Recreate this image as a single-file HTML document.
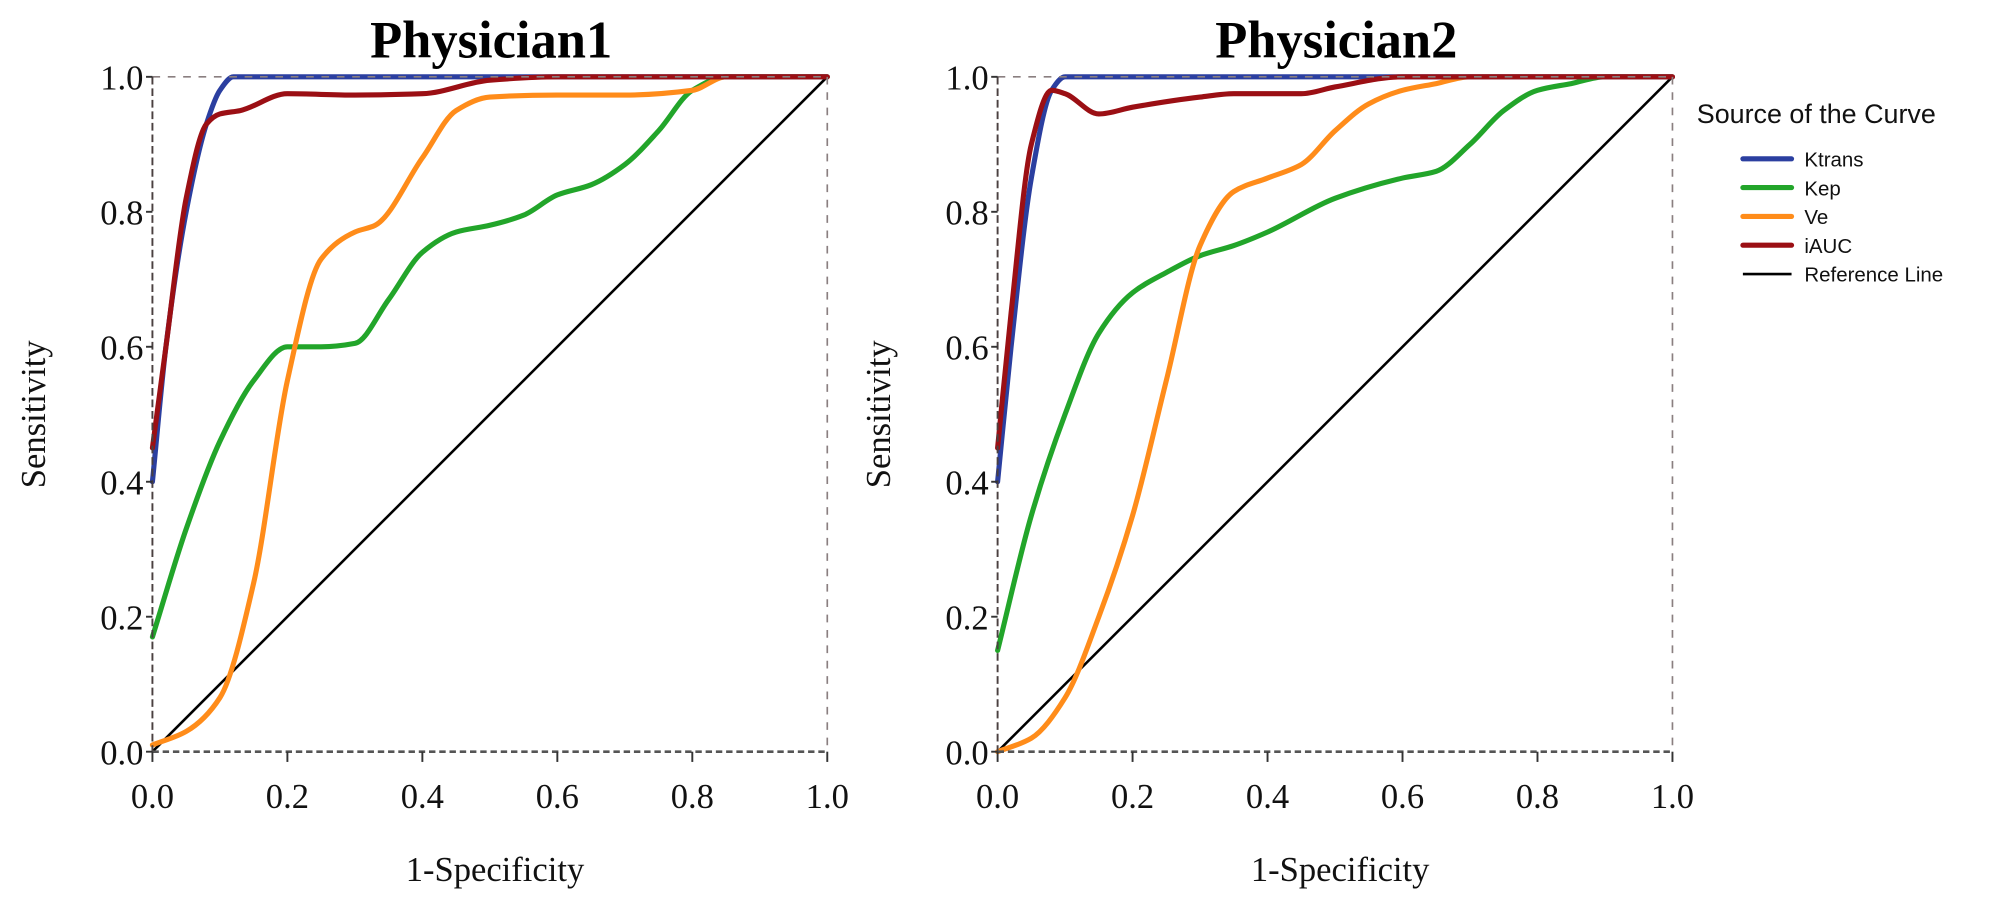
<!DOCTYPE html>
<html><head><meta charset="utf-8"><style>
html,body{margin:0;padding:0;background:#fff;}
svg{display:block;}
</style></head><body>
<svg id="chart" width="2008" height="906" viewBox="0 0 1568 707.5" xmlns="http://www.w3.org/2000/svg">
<g id="panels"></g>
<g id="legend">
<text x="1325" y="96" font-family="Liberation Sans, sans-serif" font-size="21" fill="#111">Source of the Curve</text>
</g>
</svg>
<script>
const seriesNames = ["Kep","Ve","Ktrans","iAUC"];
const seriesColors = {Ktrans:"#2b3fa0",Kep:"#22a52a",Ve:"#ff8c1a",iAUC:"#9b0f14"};
const ticks = [0,0.2,0.4,0.6,0.8,1.0];
const tickLabels = ["0.0","0.2","0.4","0.6","0.8","1.0"];
const panelTitles = ["Physician1","Physician2"];

const p1_Ktrans_x=[0,0.02,0.05,0.08,0.1,0.12,1];
const p1_Ktrans_y=[0.4,0.6,0.8,0.93,0.98,1,1];
const p1_iAUC_x=[0,0.02,0.05,0.08,0.1,0.13,0.2,0.3,0.4,0.5,0.6,1];
const p1_iAUC_y=[0.45,0.6,0.82,0.93,0.945,0.95,0.975,0.973,0.975,0.995,1,1];
const p1_Ve_x=[0,0.05,0.1,0.15,0.2,0.25,0.3,0.33,0.4,0.45,0.5,0.6,0.7,0.8,0.85,1];
const p1_Ve_y=[0.01,0.03,0.08,0.25,0.55,0.73,0.77,0.78,0.88,0.95,0.97,0.973,0.973,0.98,1,1];
const p1_Kep_x=[0,0.05,0.1,0.15,0.2,0.25,0.3,0.35,0.4,0.45,0.5,0.55,0.6,0.65,0.7,0.75,0.8,0.85,1];
const p1_Kep_y=[0.17,0.33,0.46,0.55,0.6,0.6,0.605,0.67,0.74,0.77,0.78,0.795,0.825,0.84,0.87,0.92,0.98,1,1];

const p2_Ktrans_x=[0,0.02,0.05,0.08,0.1,1];
const p2_Ktrans_y=[0.4,0.6,0.85,0.98,1,1];
const p2_iAUC_x=[0,0.02,0.05,0.08,0.1,0.15,0.2,0.3,0.35,0.45,0.5,0.6,1];
const p2_iAUC_y=[0.45,0.65,0.9,0.98,0.975,0.945,0.955,0.97,0.975,0.975,0.985,1,1];
const p2_Ve_x=[0,0.05,0.1,0.15,0.2,0.25,0.3,0.35,0.4,0.45,0.5,0.55,0.6,0.65,0.7,1];
const p2_Ve_y=[0,0.02,0.08,0.2,0.35,0.55,0.75,0.83,0.85,0.87,0.92,0.96,0.98,0.99,1,1];
const p2_Kep_x=[0,0.05,0.1,0.15,0.2,0.25,0.3,0.35,0.4,0.5,0.6,0.65,0.7,0.75,0.8,0.85,0.9,1];
const p2_Kep_y=[0.15,0.35,0.5,0.62,0.68,0.71,0.735,0.75,0.77,0.82,0.85,0.86,0.9,0.95,0.98,0.99,1,1];

const panelData=[
 {Ktrans:[p1_Ktrans_x,p1_Ktrans_y],iAUC:[p1_iAUC_x,p1_iAUC_y],Ve:[p1_Ve_x,p1_Ve_y],Kep:[p1_Kep_x,p1_Kep_y]},
 {Ktrans:[p2_Ktrans_x,p2_Ktrans_y],iAUC:[p2_iAUC_x,p2_iAUC_y],Ve:[p2_Ve_x,p2_Ve_y],Kep:[p2_Kep_x,p2_Kep_y]}
];

const NS="http://www.w3.org/2000/svg";
function mk(tag,attrs,parent){const e=document.createElementNS(NS,tag);for(const k in attrs)e.setAttribute(k,attrs[k]);parent.appendChild(e);return e;}
function smooth(pts){
 const n=pts.length;
 const dx=[],m=[],t=new Array(n);
 for(let i=0;i<n-1;i++){dx.push(pts[i+1][0]-pts[i][0]);m.push((pts[i+1][1]-pts[i][1])/dx[i]);}
 t[0]=m[0];t[n-1]=m[n-2];
 for(let i=1;i<n-1;i++){
  if(m[i-1]*m[i]<=0)t[i]=0;
  else{const w1=2*dx[i]+dx[i-1],w2=dx[i]+2*dx[i-1];t[i]=(w1+w2)/(w1/m[i-1]+w2/m[i]);}
 }
 let d="M"+pts[0][0]+","+pts[0][1];
 for(let i=0;i<n-1;i++){
  const h=dx[i]/3;
  d+=" C"+(pts[i][0]+h)+","+(pts[i][1]+t[i]*h)+" "+(pts[i+1][0]-h)+","+(pts[i+1][1]-t[i+1]*h)+" "+pts[i+1][0]+","+pts[i+1][1];
 }
 return d;
}
const panelsG=document.getElementById("panels");
const panelX0=[119,779], W=527, Y0=587, H=527;
panelTitles.forEach((t,pi)=>{
 const x0=panelX0[pi];
 const sx=v=>x0+v*W, sy=v=>Y0-v*H;
 const g=mk("g",{},panelsG);
 
 
 const title=mk("text",{x:x0+W/2+1,y:45,"text-anchor":"middle","font-family":"Liberation Serif, serif","font-weight":"bold","font-size":"41",fill:"#000"},g);
 title.textContent=t;
 
 
 const ref=mk("line",{x1:sx(0),y1:sy(0),x2:sx(1),y2:sy(1),stroke:"#000","stroke-width":"2"},g);
 
 
 seriesNames.forEach(s=>{
  const [xs,ys]=panelData[pi][s];
  const pts=xs.map((x,i)=>[sx(x),sy(ys[i])]);
  const path=mk("path",{d:smooth(pts),fill:"none",stroke:seriesColors[s],"stroke-width":"4","stroke-linecap":"round","stroke-linejoin":"round"},g);
  
  
 });
 const fr=mk("g",{},g);
 
 
 mk("line",{x1:sx(0),y1:sy(1),x2:sx(1),y2:sy(1),stroke:"#8a7f80","stroke-width":"1.3","stroke-dasharray":"6,6"},fr);
 mk("line",{x1:sx(1),y1:sy(1),x2:sx(1),y2:sy(0),stroke:"#8a7f80","stroke-width":"1.3","stroke-dasharray":"6,6"},fr);
 mk("line",{x1:sx(0),y1:sy(1),x2:sx(0),y2:sy(0),stroke:"#4a4040","stroke-width":"1.5","stroke-dasharray":"6,3"},fr);
 mk("line",{x1:sx(0),y1:sy(0),x2:sx(1),y2:sy(0),stroke:"#555","stroke-width":"2","stroke-dasharray":"5,3"},fr);
 ticks.forEach((v,i)=>{
  mk("line",{x1:sx(0)-5,y1:sy(v),x2:sx(0),y2:sy(v),stroke:"#333","stroke-width":"1.5"},fr);
  mk("line",{x1:sx(v),y1:sy(0),x2:sx(v),y2:sy(0)+8,stroke:"#333","stroke-width":"1.5"},fr);
  const yl=mk("text",{x:sx(0)-7,y:sy(v)+10,"text-anchor":"end","font-family":"Liberation Serif, serif","font-size":"27",fill:"#111"},g);
  yl.textContent=tickLabels[i];
  
  
  const xl=mk("text",{x:sx(v),y:631,"text-anchor":"middle","font-family":"Liberation Serif, serif","font-size":"27",fill:"#111"},g);
  xl.textContent=tickLabels[i];
  
  
 });
 const yt=mk("text",{x:0,y:0,transform:"translate("+(x0-84)+","+(Y0-H/2)+") rotate(-90)","text-anchor":"middle","font-family":"Liberation Serif, serif","font-size":"27",fill:"#111"},g);
 yt.textContent="Sensitivity";
 
 
 const xt=mk("text",{x:x0+W/2+4,y:688,"text-anchor":"middle","font-family":"Liberation Serif, serif","font-size":"27",fill:"#111"},g);
 xt.textContent="1-Specificity";
 
 
});
const legendNames=["Ktrans","Kep","Ve","iAUC","Reference Line"];
const legendG=document.getElementById("legend");
legendNames.forEach((n,i)=>{
 const y=124+i*22.5;
 const isRef=n==="Reference Line";
 const ln=mk("line",{x1:1361,y1:y,x2:1399,y2:y,stroke:isRef?"#000":seriesColors[n],"stroke-width":isRef?"2":"4","stroke-linecap":isRef?"butt":"round"},legendG);
 
 
 const tx=mk("text",{x:1409,y:y+6,"font-family":"Liberation Sans, sans-serif","font-size":"16",fill:"#111"},legendG);
 tx.textContent=n;
 
 
});
</script>
</body></html>
